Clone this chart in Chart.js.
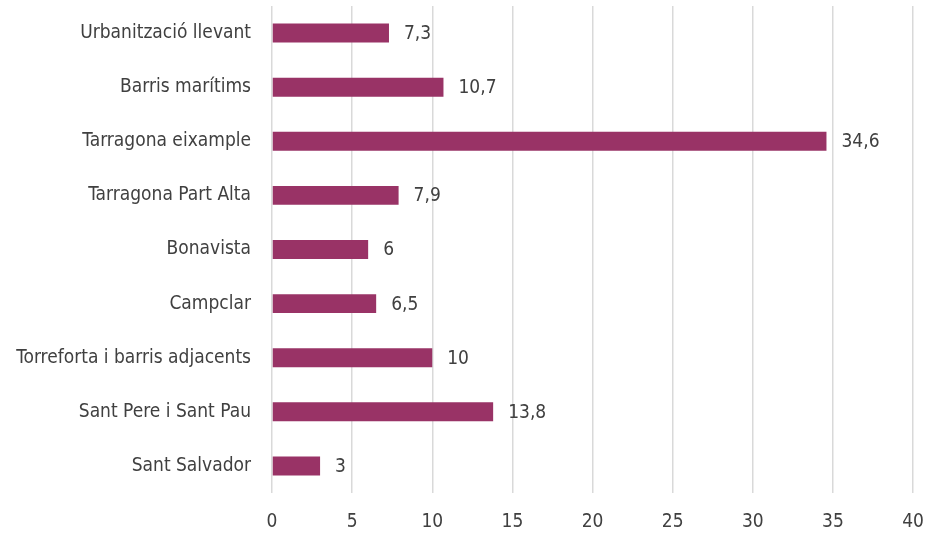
<!DOCTYPE html>
<html>
<head>
<meta charset="utf-8">
<script src="https://cdn.jsdelivr.net/npm/chart.js@4/dist/chart.umd.min.js"></script>
<style>
  html, body { margin: 0; padding: 0; background: #fff; }
  #wrap { width: 930px; height: 537px; }
</style>
</head>
<body>
<div id="wrap"><canvas id="chart"></canvas></div>
<script>
// Data
const categories = [
  'Urbanització llevant',
  'Barris marítims',
  'Tarragona eixample',
  'Tarragona Part Alta',
  'Bonavista',
  'Campclar',
  'Torreforta i barris adjacents',
  'Sant Pere i Sant Pau',
  'Sant Salvador'
];
const values = [7.3, 10.7, 34.6, 7.9, 6, 6.5, 10, 13.8, 3];
const xTicks = [0, 5, 10, 15, 20, 25, 30, 35, 40];

const FONT = "'Liberation Sans Narrow', 'Arial Narrow', 'DejaVu Sans Condensed', sans-serif";
const TEXT_COLOR = '#404040';

// Value labels to the right of each bar
const valueLabels = {
  id: 'valueLabels',
  afterDatasetsDraw(chart) {
    const ctx = chart.ctx;
    const meta = chart.getDatasetMeta(0);
    ctx.save();
    ctx.font = '19px ' + FONT;
    ctx.fillStyle = TEXT_COLOR;
    ctx.textAlign = 'left';
    ctx.textBaseline = 'middle';
    meta.data.forEach((bar, i) => {
      const txt = String(values[i]).replace('.', ',');
      ctx.fillText(txt, bar.x + 15, bar.y + 1);
    });
    ctx.restore();
  }
};

new Chart(document.getElementById('chart'), {
  type: 'bar',
  data: {
    labels: categories,
    datasets: [{
      data: values,
      backgroundColor: '#993366',
      borderWidth: 0,
      barPercentage: 0.7,
      categoryPercentage: 0.5
    }]
  },
  options: {
    indexAxis: 'y',
    responsive: true,
    maintainAspectRatio: false,
    animation: false,
    layout: { padding: { top: 6, right: 17, bottom: 0, left: 0 } },
    plugins: {
      legend: { display: false },
      tooltip: { enabled: false }
    },
    scales: {
      x: {
        min: 0,
        max: 40,
        afterBuildTicks(scale) {
          scale.ticks = xTicks.map(v => ({ value: v }));
        },
        afterFit(scale) {
          scale.height = 44;
          scale.paddingLeft = 0;
          scale.paddingRight = 0;
        },
        grid: { color: '#d9d9d9', lineWidth: 1.5, drawTicks: false },
        border: { display: false },
        ticks: {
          color: TEXT_COLOR,
          font: { family: FONT, size: 19 },
          padding: 18
        }
      },
      y: {
        afterFit(scale) {
          scale.width = 272;
          scale.paddingTop = 0;
          scale.paddingBottom = 0;
        },
        grid: { display: false },
        border: { display: false },
        ticks: {
          color: TEXT_COLOR,
          font: { family: FONT, size: 19 },
          padding: 13
        }
      }
    }
  },
  plugins: [valueLabels]
});
</script>
</body>
</html>
